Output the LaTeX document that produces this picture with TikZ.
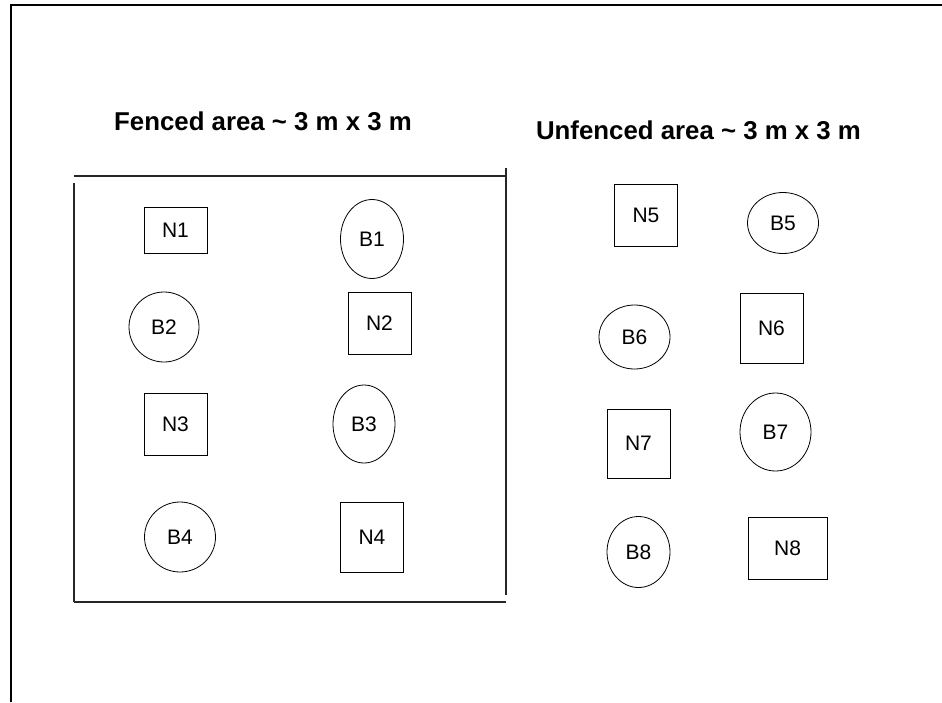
\documentclass[tikz,border=0pt]{standalone}
\usepackage{fontspec}
\setmainfont{Liberation Sans}
\usetikzlibrary{shapes.geometric}
\begin{document}
\begin{tikzpicture}[x=1pt,y=-1pt,
  lbl/.style={font=\fontsize{21}{25}\selectfont, text=black},
  nbox/.style={lbl, draw, rectangle, inner sep=0pt, line width=0.8pt},
  bell/.style={lbl, draw, ellipse, inner sep=0pt, line width=0.8pt},
  areatitle/.style={font=\fontsize{25.8}{30}\selectfont\bfseries, inner sep=0pt},
  fence/.style={line width=1.1pt, draw=black!85}]
\useasboundingbox (0,0) rectangle (942,702);
% outer frame
\draw[line width=2pt] (11,702) -- (11,5) -- (942,5);
% titles
\node[areatitle] (t1) at (263,121) {Fenced area \textasciitilde{} 3 m x 3 m};
\node[areatitle] (t2) at (698.5,130) {Unfenced area \textasciitilde{} 3 m x 3 m};
% fence
\draw[fence] (74,176) -- (506,176);
\draw[fence] (506,168) -- (506,595);
\draw[fence] (74,183) -- (74,602);
\draw[fence] (74,602) -- (506,602);
% fenced plots
\node[nbox, minimum width=63pt, minimum height=46pt] (N1) at (175.5,230) {N1};
\node[bell, minimum width=63pt, minimum height=79pt] (B1) at (372,239) {B1};
\node[bell, minimum width=70pt, minimum height=70pt] (B2) at (164,327) {B2};
\node[nbox, minimum width=63pt, minimum height=62pt] (N2) at (379.5,323) {N2};
\node[nbox, minimum width=63pt, minimum height=62pt] (N3) at (175.5,424) {N3};
\node[bell, minimum width=62pt, minimum height=78pt] (B3) at (364,424) {B3};
\node[bell, minimum width=71pt, minimum height=70pt] (B4) at (180,537) {B4};
\node[nbox, minimum width=63pt, minimum height=70pt] (N4) at (372,537) {N4};
% unfenced plots
\node[nbox, minimum width=63pt, minimum height=62pt] (N5) at (646,215) {N5};
\node[bell, minimum width=71pt, minimum height=61pt] (B5) at (783,223) {B5};
\node[bell, minimum width=71pt, minimum height=64pt] (B6) at (634.5,337) {B6};
\node[nbox, minimum width=63pt, minimum height=70pt] (N6) at (771.5,328) {N6};
\node[nbox, minimum width=63pt, minimum height=69pt] (N7) at (638.5,443.5) {N7};
\node[bell, minimum width=71pt, minimum height=78pt] (B7) at (775.5,432) {B7};
\node[bell, minimum width=63pt, minimum height=71pt] (B8) at (638.5,552) {B8};
\node[nbox, minimum width=79pt, minimum height=62pt] (N8) at (787.5,548) {N8};
\end{tikzpicture}
\end{document}
